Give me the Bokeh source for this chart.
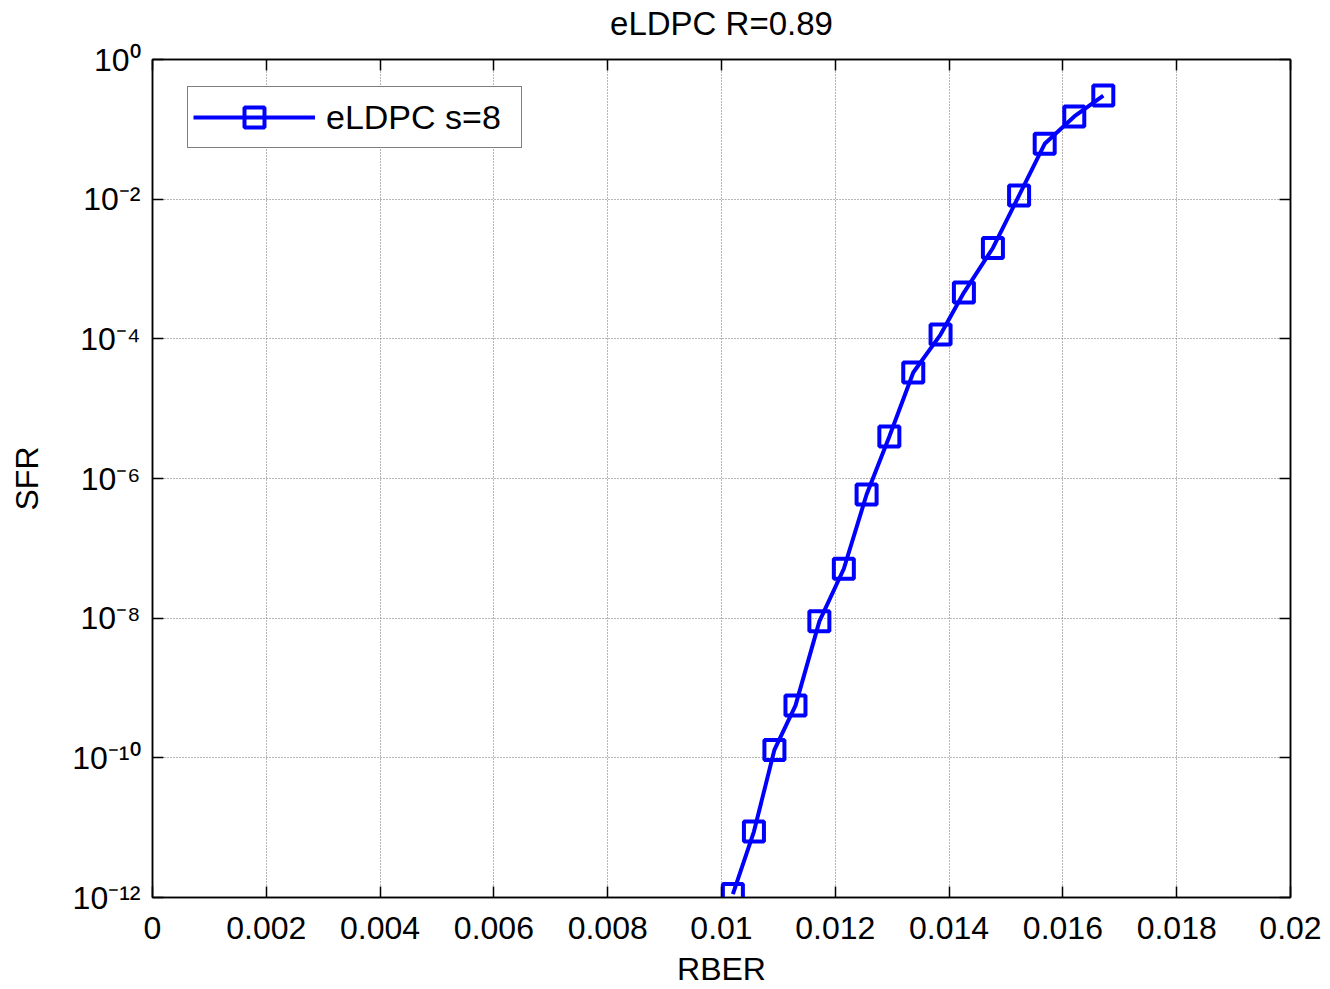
from bokeh.plotting import figure
from bokeh.models import (FixedTicker, CustomJSTickFormatter, LinearAxis, LogAxis,
                          Range1d)
from bokeh.embed import file_html
from bokeh.resources import INLINE

# ---- data ----
rber = [0.01020, 0.01057, 0.01093, 0.01130, 0.01172, 0.01215, 0.01255, 0.01295,
        0.01337, 0.01385, 0.01426, 0.01477, 0.01523, 0.01568, 0.01620, 0.01671]
sfr = [1.12e-12, 8.8e-12, 1.30e-10, 5.6e-10, 9.0e-9, 5.1e-8, 5.9e-7, 4.0e-6,
       3.3e-5, 1.15e-4, 4.6e-4, 2.0e-3, 1.13e-2, 6.2e-2, 0.153, 0.305]
series_label = "eLDPC s=8"
title_text = "eLDPC R=0.89"

x_ticks = [0.0, 0.002, 0.004, 0.006, 0.008, 0.01, 0.012, 0.014, 0.016, 0.018, 0.02]
x_tick_labels = ["0", "0.002", "0.004", "0.006", "0.008", "0.01", "0.012",
                 "0.014", "0.016", "0.018", "0.02"]
y_ticks = [1e-12, 1e-10, 1e-8, 1e-6, 1e-4, 1e-2, 1e0]
y_tick_labels = ["10\u207b\u00b9\u00b2", "10\u207b\u00b9\u2070", "10\u207b\u2078",
                 "10\u207b\u2076", "10\u207b\u2074", "10\u207b\u00b2", "10\u2070"]

FONT = "Liberation Sans"

p = figure(width=1322, height=989,
           x_range=Range1d(0, 0.02), y_range=Range1d(1e-12, 1),
           y_axis_type="log", output_backend="svg", toolbar_location=None,
           min_border_left=152, min_border_right=32,
           min_border_top=59, min_border_bottom=92)

p.background_fill_color = "white"
p.border_fill_color = "white"
p.outline_line_color = "black"
p.outline_line_width = 1.5

x_fmt = CustomJSTickFormatter(args=dict(vals=x_ticks, labs=x_tick_labels), code="""
for (let i = 0; i < vals.length; i++) {
  if (Math.abs(tick - vals[i]) < 1e-9) return labs[i];
}
return "";
""")
y_fmt = CustomJSTickFormatter(args=dict(vals=y_ticks, labs=y_tick_labels), code="""
for (let i = 0; i < vals.length; i++) {
  if (Math.abs(Math.log10(tick) - Math.log10(vals[i])) < 1e-6) return labs[i];
}
return "";
""")

def style_axis(ax):
    ax.axis_line_color = "black"
    ax.axis_line_width = 1.5
    ax.major_tick_line_color = "black"
    ax.major_tick_line_width = 1.5
    ax.major_tick_in = 11
    ax.major_tick_out = 0
    ax.minor_tick_in = 0
    ax.minor_tick_out = 0
    ax.minor_tick_line_color = None
    ax.major_label_text_font = FONT
    ax.major_label_text_font_size = "32px"
    ax.major_label_text_color = "black"
    ax.axis_label_text_font = FONT
    ax.axis_label_text_font_size = "32px"
    ax.axis_label_text_font_style = "normal"
    ax.axis_label_text_color = "black"

xa = p.xaxis[0]
ya = p.yaxis[0]
xa.ticker = FixedTicker(ticks=x_ticks)
ya.ticker = FixedTicker(ticks=y_ticks)
xa.formatter = x_fmt
ya.formatter = y_fmt
style_axis(xa)
style_axis(ya)
xa.axis_label = "RBER"
ya.axis_label = "SFR"
xa.major_label_standoff = 19
xa.axis_label_standoff = 9
ya.major_label_standoff = 12
ya.axis_label_standoff = 24

# top and right axes: ticks only, no visible tick labels
top = LinearAxis(ticker=FixedTicker(ticks=x_ticks))
right = LogAxis(ticker=FixedTicker(ticks=y_ticks))
for ax in (top, right):
    style_axis(ax)
    ax.major_label_text_font_size = "1px"
    ax.major_label_text_color = None
    ax.major_label_standoff = 0
# the chart title sits on the top axis, just above the frame
top.axis_label = title_text
top.axis_label_text_font_size = "33px"
top.axis_label_standoff = 18
p.add_layout(top, "above")
p.add_layout(right, "right")

# grid
for g in (p.xgrid[0], p.ygrid[0]):
    g.grid_line_color = "#6e6e6e"
    g.grid_line_dash = "1 2"
    g.grid_line_width = 1
p.xgrid[0].ticker = FixedTicker(ticks=x_ticks)
p.ygrid[0].ticker = FixedTicker(ticks=y_ticks)

# series
p.line(rber, sfr, line_color="#0000ff", line_width=4, legend_label=series_label)
p.scatter(rber, sfr, marker="square", size=20, line_color="#0000ff", line_width=4,
          fill_color=None, legend_label=series_label)

lg = p.legend[0]
lg.location = (35, 749)
lg.label_text_font = FONT
lg.label_text_font_size = "34px"
lg.label_text_color = "black"
lg.glyph_width = 122
lg.glyph_height = 50
lg.label_standoff = 11
lg.label_width = 190
lg.padding = 5
lg.spacing = 0
lg.margin = 0
lg.border_line_color = "black"
lg.border_line_width = 1.5
lg.background_fill_color = "white"
lg.background_fill_alpha = 1.0

open("out.html", "w").write(file_html(p, INLINE))
